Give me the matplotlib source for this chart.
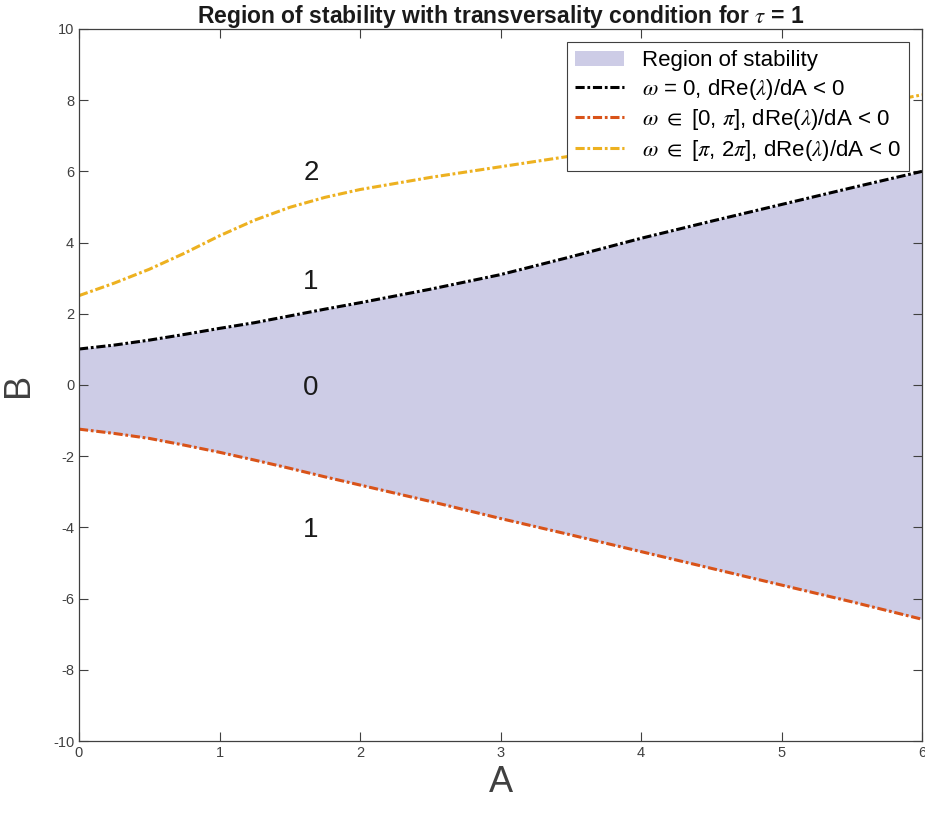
import numpy as np
import matplotlib
matplotlib.use('Agg')
import matplotlib.pyplot as plt

plt.rcParams['font.family'] = ['Liberation Sans', 'DejaVu Sans']
plt.rcParams['mathtext.fontset'] = 'stix'
plt.rcParams['axes.unicode_minus'] = False

A = [0, 0.25, 0.5, 0.75, 1, 1.25, 1.5, 1.75, 2, 2.5, 3, 3.5, 4, 4.5, 5, 5.5, 6]
# omega = 0 boundary (upper edge of the stable region)
B_w0 = [1.01, 1.12, 1.26, 1.42, 1.59, 1.75, 1.94, 2.13, 2.31,
        2.69, 3.1, 3.6, 4.12, 4.6, 5.07, 5.54, 6.0]
# omega in [0, pi] boundary (lower edge)
B_w1 = [-1.24, -1.36, -1.50, -1.69, -1.89, -2.11, -2.34, -2.58, -2.81,
        -3.27, -3.75, -4.21, -4.68, -5.15, -5.62, -6.09, -6.58]
# omega in [pi, 2pi] curve
B_w2 = [2.51, 2.86, 3.25, 3.70, 4.19, 4.63, 4.99, 5.27, 5.49,
        5.83, 6.13, 6.43, 6.75, 7.08, 7.42, 7.78, 8.15]

# region labels (number of roots with positive real part)
lab_x = [1.65, 1.65, 1.65, 1.65]
lab_y = [5.95, 2.9, -0.08, -4.07]
lab_txt = ['2', '1', '0', '1']

fig = plt.figure(figsize=(9.25, 8.16), dpi=100)
ax = fig.add_axes([0.0854, 0.0919, 0.9114, 0.8726])

ax.fill_between(A, B_w1, B_w0, color='#cdcce6', lw=0, label='Region of stability')

ls = (0, (3.0, 0.9, 0.9, 0.9))
ax.plot(A, B_w0, color='black', lw=2.2, ls=ls,
        label=r'$\omega$ = 0, dRe($\lambda$)/dA < 0')
ax.plot(A, B_w1, color='#d95319', lw=2.2, ls=ls,
        label=r'$\omega$ $\in$ [0, $\pi$], dRe($\lambda$)/dA < 0')
ax.plot(A, B_w2, color='#edb120', lw=2.2, ls=ls,
        label=r'$\omega$ $\in$ [$\pi$, 2$\pi$], dRe($\lambda$)/dA < 0')

for x, y, t in zip(lab_x, lab_y, lab_txt):
    ax.text(x, y, t, fontsize=20, ha='center', va='center', color='#1a1a1a')

ax.set_xlim(0, 6)
ax.set_ylim(-10, 10)
ax.set_xticks(range(0, 7))
ax.set_yticks(range(-10, 11, 2))
ax.tick_params(direction='in', length=6.5, width=0.8, labelsize=10.5,
               colors='#404040', top=True, right=True)
for s in ax.spines.values():
    s.set_color('#404040')
    s.set_linewidth(0.9)

ax.set_xlabel('A', fontsize=26, color='#404040', labelpad=4)
ax.set_ylabel('B', fontsize=26, color='#404040', labelpad=12)
ax.set_title(r'Region of stability with transversality condition for $\tau$ = 1',
             fontsize=16.5, fontweight='bold', color='#1a1a1a', pad=4)

leg = ax.legend(loc='upper right', fontsize=16, frameon=True, fancybox=False,
                edgecolor='#404040', framealpha=1, handlelength=2.2,
                borderaxespad=0.6, labelspacing=0.25, borderpad=0.35)
leg.get_frame().set_linewidth(0.8)

fig.savefig('out.png', dpi=100)
